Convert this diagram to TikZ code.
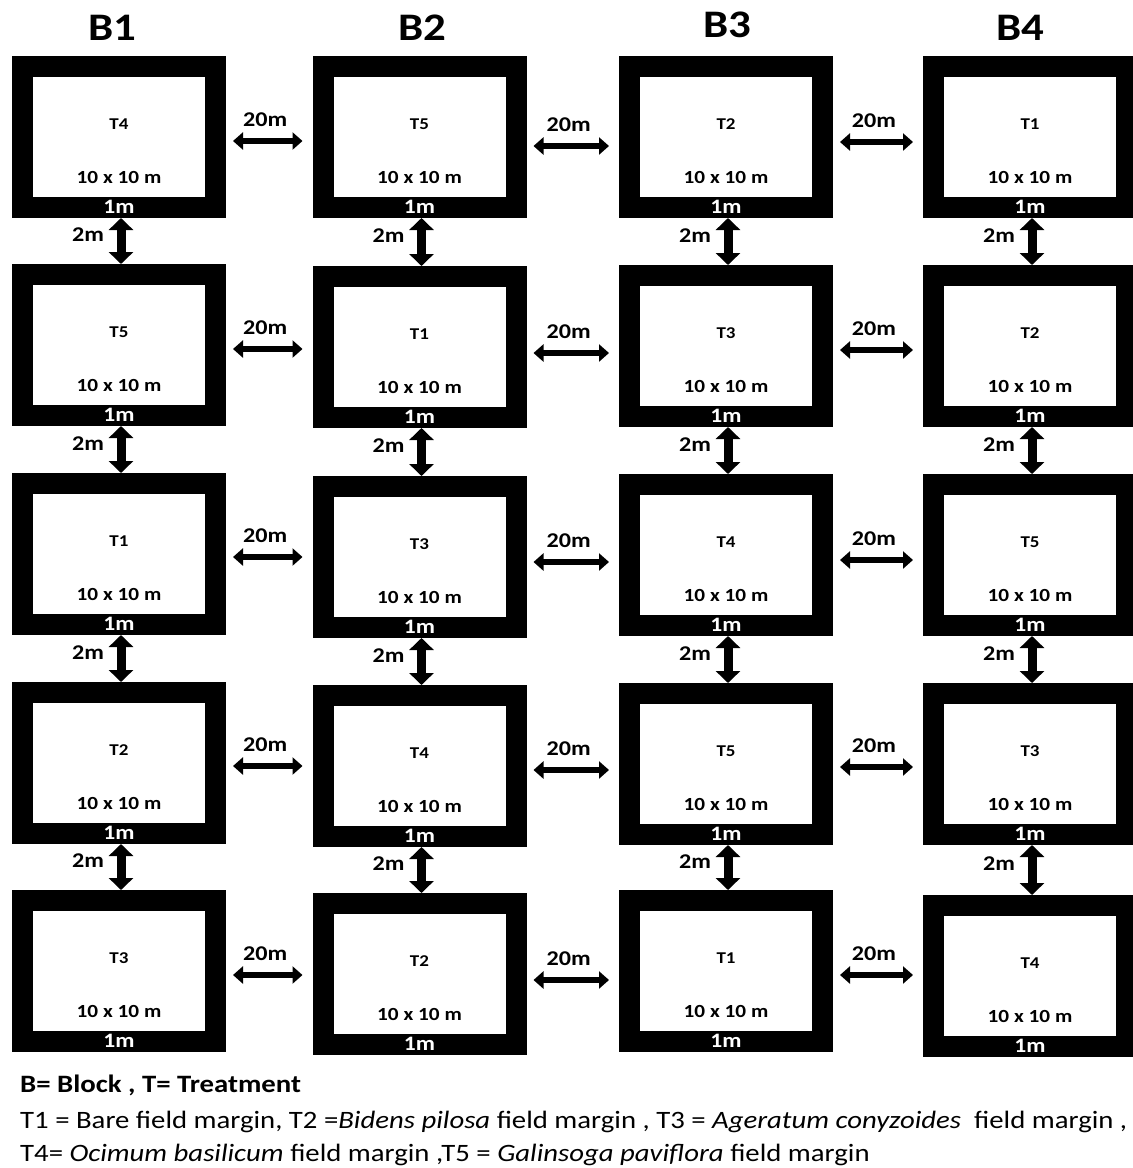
\documentclass[tikz,border=0pt]{standalone}
\usepackage{fontspec}
\setmainfont{Carlito}[FakeStretch=1.15]
\usetikzlibrary{arrows.meta}
\tikzset{
  plotbox/.style={draw=black, line width=21pt, fill=white, minimum width=193pt, minimum height=141pt, inner sep=0pt, outer sep=10.5pt},
  tlab/.style={inner sep=0pt, font=\bfseries\fontsize{16.5}{18}\selectfont},
  dimlab/.style={inner sep=0pt, font=\bfseries\fontsize{18.5}{20}\selectfont},
  onelab/.style={inner sep=0pt, text=white, font=\bfseries\fontsize{20.5}{22}\selectfont},
  blk/.style={inner sep=0pt, font=\bfseries\fontsize{39}{44}\selectfont},
  dist/.style={inner sep=0pt, font=\bfseries\fontsize{21}{23}\selectfont},
  harr/.style={line width=6pt, {Triangle[width=17pt,length=10pt]}-{Triangle[width=17pt,length=10pt]}, shorten <=7pt, shorten >=10pt},
  varr/.style={line width=9pt, {Triangle[width=24pt,length=12pt]}-{Triangle[width=24pt,length=12pt]}},
  leg/.style={inner sep=0pt, anchor=west, font=\fontsize{25}{28}\selectfont},
}
\begin{document}
\begin{tikzpicture}[x=1pt,y=-1pt]
\useasboundingbox[fill=white] (0,0) rectangle (1133,1168);
% block titles
\node[blk] (B1) at (112,28) {B1};
\node[blk] (B2) at (422,28) {B2};
\node[blk] (B3) at (727,25) {B3};
\node[blk] (B4) at (1020,28) {B4};
% plots
\foreach \n/\x/\y/\t in {
  11/119/137/T4, 12/119/345/T5, 13/119/554/T1, 14/119/763/T2, 15/119/971/T3,
  21/419.5/137/T5, 22/419.5/347/T1, 23/419.5/557/T3, 24/419.5/766/T4, 25/419.5/974/T2,
  31/726/137/T2, 32/726/346/T3, 33/726/555/T4, 34/726/764/T5, 35/726/971/T1,
  41/1030/137/T1, 42/1030/346/T2, 43/1030/555/T5, 44/1030/764/T3, 45/1030/976/T4}{
  \node[plotbox] (b\n) at (\x,\y) {};
  \node[tlab] (t\n) at ([yshift=13pt]b\n.center) {\t};
  \node[dimlab] (d\n) at ([yshift=-40pt]b\n.center) {10 x 10 m};
  \node[onelab] (o\n) at ([yshift=-70pt]b\n.center) {1m};
}
% vertical 2m arrows
\foreach \c in {1,2,3,4}{
  \foreach \r/\s in {1/2,2/3,3/4,4/5}{
    \draw[varr] ([xshift=2pt]b\c\r.south) -- ([xshift=2pt]b\c\s.north)
      node[dist, midway, xshift=-33pt, yshift=6pt] (v\c\r) {2m};
  }
}
% horizontal 20m arrows
\foreach \r/\p/\q/\u in {1/4/9/5, 2/4/6/4, 3/3/5/5, 4/3/4/3, 5/4/6/4}{
  \draw[harr] ([yshift=-\p pt]b1\r.east) -- ([yshift=-\p pt]b1\r.east -| b2\r.west)
    node[dist, midway, xshift=-4pt, yshift=21pt] (h1\r) {20m};
  \draw[harr] ([yshift=-\q pt]b2\r.east) -- ([yshift=-\q pt]b2\r.east -| b3\r.west)
    node[dist, midway, xshift=-4pt, yshift=21pt] (h2\r) {20m};
  \draw[harr] ([yshift=-\u pt]b3\r.east) -- ([yshift=-\u pt]b3\r.east -| b4\r.west)
    node[dist, midway, xshift=-4pt, yshift=21pt] (h3\r) {20m};
}
% legend
\node[leg, font=\bfseries\fontsize{25}{28}\selectfont] (l1) at (20,1085) {B= Block , T= Treatment};
\node[leg] (l2) at (20,1122) {T1 = Bare field margin, T2 =\textit{Bidens pilosa} field margin , T3 = \textit{Ageratum conyzoides}\ \ field margin ,};
\node[leg] (l3) at (20,1155) {T4= \textit{Ocimum basilicum} field margin ,T5 = \textit{Galinsoga paviflora} field margin};
\end{tikzpicture}
\end{document}
